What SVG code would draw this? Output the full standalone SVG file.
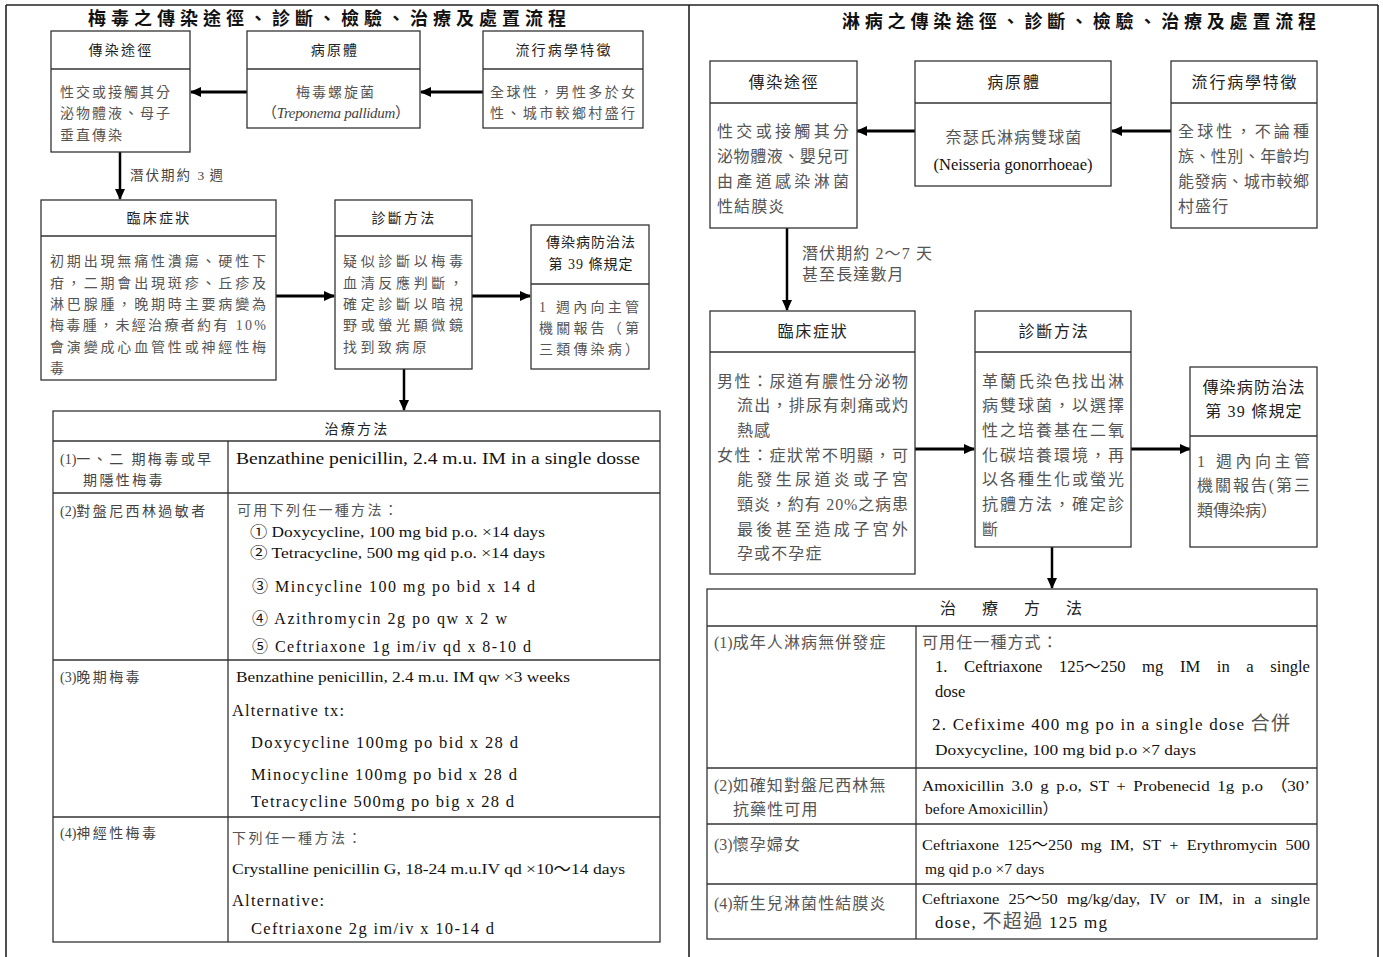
<svg xmlns="http://www.w3.org/2000/svg" width="1383" height="957" viewBox="0 0 1383 957">
<style>
text{font-family:"Liberation Serif","Noto Sans CJK TC",serif;fill:#111}
.box{fill:#fff;stroke:#333;stroke-width:1.3}
.ln{stroke:#333;stroke-width:1.3;fill:none}
.fr{stroke:#222;stroke-width:1.6;fill:none}
.ar{stroke:#000;stroke-width:3;fill:none}
.ttl{font-size:18px;font-weight:bold;fill:#111}
.h{font-size:14px;text-anchor:middle;fill:#222;letter-spacing:2.2px}
.h2{font-size:16px;text-anchor:middle;fill:#222;letter-spacing:1.8px}
.b{font-size:14px;fill:#555;letter-spacing:2px}
.lc{font-size:14px;fill:#444;letter-spacing:2.4px}
.b2{font-size:16px;fill:#555}
.rc{font-size:16px;fill:#555;letter-spacing:1.1px}
.c{text-anchor:middle}
.en{font-size:16px}
.n0{letter-spacing:0}
</style>
<defs>
<marker id="ah" markerWidth="11" markerHeight="10" refX="10" refY="5" orient="auto" markerUnits="userSpaceOnUse">
<path d="M0,0 L11,5 L0,10 z" fill="#000"/>
</marker>
</defs>

<g id="frame">
<line class="fr" x1="6" y1="5" x2="1378" y2="5"/>
<line class="fr" x1="6" y1="5" x2="6" y2="957"/>
<line class="fr" x1="689" y1="5" x2="689" y2="957"/>
<line class="fr" x1="1378" y1="5" x2="1378" y2="957"/>
</g>

<text id="title-left" class="ttl" x="88" y="25" textLength="478" lengthAdjust="spacing">梅毒之傳染途徑、診斷、檢驗、治療及處置流程</text>
<text id="title-right" class="ttl" x="842" y="28" textLength="474" lengthAdjust="spacing">淋病之傳染途徑、診斷、檢驗、治療及處置流程</text>

<g id="connectors">
<line class="ar" x1="247" y1="92" x2="191" y2="92" marker-end="url(#ah)"/>
<line class="ar" x1="483" y1="92" x2="421" y2="92" marker-end="url(#ah)"/>
<line class="ar" x1="120" y1="152" x2="120" y2="199" marker-end="url(#ah)" style="stroke-width:2.5"/>
<line class="ar" x1="276" y1="296" x2="334" y2="296" marker-end="url(#ah)"/>
<line class="ar" x1="472" y1="296" x2="530" y2="296" marker-end="url(#ah)"/>
<line class="ar" x1="404" y1="369" x2="404" y2="410" marker-end="url(#ah)" style="stroke-width:2.5"/>
<line class="ar" x1="915" y1="131" x2="857" y2="131" marker-end="url(#ah)"/>
<line class="ar" x1="1171" y1="131" x2="1112" y2="131" marker-end="url(#ah)"/>
<line class="ar" x1="787" y1="228" x2="787" y2="310" marker-end="url(#ah)" style="stroke-width:2.5"/>
<line class="ar" x1="915" y1="449" x2="974" y2="449" marker-end="url(#ah)"/>
<line class="ar" x1="1131" y1="449" x2="1190" y2="449" marker-end="url(#ah)"/>
<line class="ar" x1="1052" y1="547" x2="1052" y2="588" marker-end="url(#ah)" style="stroke-width:2.5"/>
<text x="130" y="180" style="font-size:13.5px;fill:#444;letter-spacing:2px">潛伏期約 <tspan class="n0">3</tspan> 週</text>
<text x="802" y="259" class="rc">潛伏期約 2～7 天</text>
<text x="802" y="280" class="rc">甚至長達數月</text>
</g>

<!-- LEFT PANEL -->
<g id="L-route">
<rect class="box" x="51" y="31" width="139" height="121"/>
<line class="ln" x1="51" y1="69" x2="190" y2="69"/>
<text class="h" x="121" y="55">傳染途徑</text>
<text class="b" x="60" y="97">性交或接觸其分</text>
<text class="b" x="60" y="118">泌物體液、母子</text>
<text class="b" x="60" y="140">垂直傳染</text>
</g>
<g id="L-pathogen">
<rect class="box" x="247" y="31" width="173" height="97"/>
<line class="ln" x1="247" y1="69" x2="420" y2="69"/>
<text class="h" x="335" y="55">病原體</text>
<text class="b c" x="336" y="97">梅毒螺旋菌</text>
<text x="262" y="118" style="font-size:15px;fill:#444" textLength="148" lengthAdjust="spacing">（<tspan font-style="italic">Treponema pallidum</tspan>）</text>
</g>
<g id="L-epi">
<rect class="box" x="483" y="31" width="160" height="97"/>
<line class="ln" x1="483" y1="69" x2="643" y2="69"/>
<text class="h" x="564" y="55">流行病學特徵</text>
<text class="b" x="490" y="97" textLength="147" lengthAdjust="spacing">全球性，男性多於女</text>
<text class="b" x="490" y="118" textLength="147" lengthAdjust="spacing">性、城市較鄉村盛行</text>
</g>
<g id="L-clinical">
<rect class="box" x="41" y="200" width="235" height="180"/>
<line class="ln" x1="41" y1="236" x2="276" y2="236"/>
<text class="h" x="159" y="223">臨床症狀</text>
<text class="b" x="50" y="266" textLength="218" lengthAdjust="spacing">初期出現無痛性潰瘍、硬性下</text>
<text class="b" x="50" y="288" textLength="218" lengthAdjust="spacing">疳，二期會出現斑疹、丘疹及</text>
<text class="b" x="50" y="309" textLength="218" lengthAdjust="spacing">淋巴腺腫，晚期時主要病變為</text>
<text class="b" x="50" y="330" textLength="218" lengthAdjust="spacing">梅毒腫，未經治療者約有 10%</text>
<text class="b" x="50" y="352" textLength="218" lengthAdjust="spacing">會演變成心血管性或神經性梅</text>
<text class="b" x="50" y="373">毒</text>
</g>
<g id="L-diagnosis">
<rect class="box" x="335" y="200" width="137" height="169"/>
<line class="ln" x1="335" y1="236" x2="472" y2="236"/>
<text class="h" x="404" y="223">診斷方法</text>
<text class="b" x="343" y="266" textLength="122" lengthAdjust="spacing">疑似診斷以梅毒</text>
<text class="b" x="343" y="288" textLength="122" lengthAdjust="spacing">血清反應判斷，</text>
<text class="b" x="343" y="309" textLength="122" lengthAdjust="spacing">確定診斷以暗視</text>
<text class="b" x="343" y="330" textLength="122" lengthAdjust="spacing">野或螢光顯微鏡</text>
<text class="b" x="343" y="352" style="letter-spacing:3.4px">找到致病原</text>
</g>
<g id="L-law">
<rect class="box" x="531" y="225" width="118" height="144"/>
<line class="ln" x1="531" y1="284" x2="649" y2="284"/>
<text class="h" x="591" y="247" style="letter-spacing:1px">傳染病防治法</text>
<text class="h" x="591" y="269" style="letter-spacing:1px">第 39 條規定</text>
<text class="b" x="539" y="312" textLength="102" lengthAdjust="spacing">1  週內向主管</text>
<text class="b" x="539" y="333" textLength="102" lengthAdjust="spacing">機關報告（第</text>
<text class="b" x="539" y="354" textLength="102" lengthAdjust="spacing">三類傳染病）</text>
</g>
<g id="L-treatment">
<rect class="box" x="53" y="411" width="607" height="531"/>
<line class="ln" x1="53" y1="441" x2="660" y2="441"/>
<line class="ln" x1="53" y1="493" x2="660" y2="493"/>
<line class="ln" x1="53" y1="660" x2="660" y2="660"/>
<line class="ln" x1="53" y1="817" x2="660" y2="817"/>
<line class="ln" x1="228" y1="441" x2="228" y2="942"/>
<text class="h" x="357" y="434">治療方法</text>
<text class="lc" x="60" y="464"><tspan class="n0">(1)</tspan>一、二 期梅毒或早</text>
<text class="lc" x="83" y="485">期隱性梅毒</text>
<text class="lc" x="60" y="516"><tspan class="n0">(2)</tspan>對盤尼西林過敏者</text>
<text class="lc" x="60" y="682"><tspan class="n0">(3)</tspan>晚期梅毒</text>
<text class="lc" x="60" y="838"><tspan class="n0">(4)</tspan>神經性梅毒</text>
<text class="en" x="236" y="464" style="font-size:16.5px" textLength="404" lengthAdjust="spacingAndGlyphs">Benzathine penicillin, 2.4 m.u. IM in a single dosse</text>
<text x="237" y="515" style="font-size:14px;fill:#555;letter-spacing:2.3px">可用下列任一種方法：</text>
<text x="250" y="537" style="font-size:14.5px" textLength="295" lengthAdjust="spacingAndGlyphs">① Doxycycline, 100 mg bid p.o.  ×14 days</text>
<text x="250" y="558" style="font-size:14.5px" textLength="295" lengthAdjust="spacingAndGlyphs">② Tetracycline, 500 mg qid p.o.  ×14 days</text>
<text class="en" x="252" y="592" textLength="283" lengthAdjust="spacing">③ Mincycline 100 mg po bid x 14 d</text>
<text class="en" x="252" y="624" textLength="255" lengthAdjust="spacing">④ Azithromycin 2g po qw x 2 w</text>
<text class="en" x="252" y="652" textLength="279" lengthAdjust="spacing">⑤ Ceftriaxone 1g im/iv qd x 8-10 d</text>
<text x="236" y="682" style="font-size:14.5px" textLength="334" lengthAdjust="spacingAndGlyphs">Benzathine penicillin, 2.4 m.u. IM qw  ×3 weeks</text>
<text class="en" x="232" y="716" style="font-size:16.5px" textLength="112" lengthAdjust="spacing">Alternative tx:</text>
<text class="en" x="251" y="748" style="font-size:16.5px" textLength="267" lengthAdjust="spacing">Doxycycline 100mg po bid x 28 d</text>
<text class="en" x="251" y="780" style="font-size:16.5px" textLength="266" lengthAdjust="spacing">Minocycline 100mg po bid x 28 d</text>
<text class="en" x="251" y="807" style="font-size:16.5px" textLength="263" lengthAdjust="spacing">Tetracycline 500mg po big x 28 d</text>
<text x="232" y="843" style="font-size:14px;fill:#555;letter-spacing:2.5px">下列任一種方法：</text>
<text x="232" y="874" style="font-size:15px" textLength="393" lengthAdjust="spacingAndGlyphs">Crystalline penicillin G, 18-24 m.u.IV qd  ×10～14 days</text>
<text class="en" x="232" y="906" style="font-size:16.5px" textLength="92" lengthAdjust="spacing">Alternative:</text>
<text class="en" x="251" y="934" style="font-size:16.5px" textLength="243" lengthAdjust="spacing">Ceftriaxone 2g im/iv x 10-14 d</text>
</g>

<!-- RIGHT PANEL -->
<g id="R-route">
<rect class="box" x="710" y="61" width="147" height="167"/>
<line class="ln" x1="710" y1="103" x2="857" y2="103"/>
<text class="h2" x="784" y="88">傳染途徑</text>
<text class="b2" x="717" y="137" textLength="132" lengthAdjust="spacing">性交或接觸其分</text>
<text class="b2" x="717" y="162" textLength="132" lengthAdjust="spacing">泌物體液、嬰兒可</text>
<text class="b2" x="717" y="187" textLength="132" lengthAdjust="spacing">由產道感染淋菌</text>
<text class="rc" x="717" y="212">性結膜炎</text>
</g>
<g id="R-pathogen">
<rect class="box" x="915" y="61" width="196" height="125"/>
<line class="ln" x1="915" y1="103" x2="1111" y2="103"/>
<text class="h2" x="1014" y="88">病原體</text>
<text class="rc c" x="1014" y="143">奈瑟氏淋病雙球菌</text>
<text class="c" x="1013" y="170" style="font-size:16.5px">(Neisseria gonorrhoeae)</text>
</g>
<g id="R-epi">
<rect class="box" x="1171" y="61" width="146" height="167"/>
<line class="ln" x1="1171" y1="103" x2="1317" y2="103"/>
<text class="h2" x="1245" y="88">流行病學特徵</text>
<text class="b2" x="1178" y="137" textLength="131" lengthAdjust="spacing">全球性，不論種</text>
<text class="b2" x="1178" y="162" textLength="131" lengthAdjust="spacing">族、性別、年齡均</text>
<text class="b2" x="1178" y="187" textLength="131" lengthAdjust="spacing">能發病、城市較鄉</text>
<text class="rc" x="1178" y="212">村盛行</text>
</g>
<g id="R-clinical">
<rect class="box" x="710" y="311" width="205" height="263"/>
<line class="ln" x1="710" y1="352" x2="915" y2="352"/>
<text class="h2" x="813" y="337">臨床症狀</text>
<text class="b2" x="717" y="387" textLength="191" lengthAdjust="spacing">男性：尿道有膿性分泌物</text>
<text class="b2" x="737" y="411" textLength="171" lengthAdjust="spacing">流出，排尿有刺痛或灼</text>
<text class="rc" x="737" y="436">熱感</text>
<text class="b2" x="717" y="461" textLength="191" lengthAdjust="spacing">女性：症狀常不明顯，可</text>
<text class="b2" x="737" y="485" textLength="171" lengthAdjust="spacing">能發生尿道炎或子宮</text>
<text class="b2" x="737" y="510" textLength="171" lengthAdjust="spacing">頸炎，約有 20%之病患</text>
<text class="b2" x="737" y="535" textLength="171" lengthAdjust="spacing">最後甚至造成子宮外</text>
<text class="rc" x="737" y="559">孕或不孕症</text>
</g>
<g id="R-diagnosis">
<rect class="box" x="975" y="311" width="156" height="236"/>
<line class="ln" x1="975" y1="352" x2="1131" y2="352"/>
<text class="h2" x="1054" y="337">診斷方法</text>
<text class="b2" x="982" y="387" textLength="142" lengthAdjust="spacing">革蘭氏染色找出淋</text>
<text class="b2" x="982" y="411" textLength="142" lengthAdjust="spacing">病雙球菌，以選擇</text>
<text class="b2" x="982" y="436" textLength="142" lengthAdjust="spacing">性之培養基在二氧</text>
<text class="b2" x="982" y="461" textLength="142" lengthAdjust="spacing">化碳培養環境，再</text>
<text class="b2" x="982" y="485" textLength="142" lengthAdjust="spacing">以各種生化或螢光</text>
<text class="b2" x="982" y="510" textLength="142" lengthAdjust="spacing">抗體方法，確定診</text>
<text class="b2" x="982" y="535">斷</text>
</g>
<g id="R-law">
<rect class="box" x="1190" y="367" width="127" height="180"/>
<line class="ln" x1="1190" y1="436" x2="1317" y2="436"/>
<text class="h2" x="1254" y="393" style="letter-spacing:1.2px">傳染病防治法</text>
<text class="h2" x="1254" y="417" style="letter-spacing:1.2px">第 39 條規定</text>
<text class="b2" x="1197" y="467" textLength="113" lengthAdjust="spacing">1  週內向主管</text>
<text class="b2" x="1197" y="491" textLength="113" lengthAdjust="spacing">機關報告(第三</text>
<text class="b2" x="1197" y="516">類傳染病）</text>
</g>
<g id="R-treatment">
<rect class="box" x="707" y="589" width="610" height="350"/>
<line class="ln" x1="707" y1="626" x2="1317" y2="626"/>
<line class="ln" x1="707" y1="768" x2="1317" y2="768"/>
<line class="ln" x1="707" y1="824" x2="1317" y2="824"/>
<line class="ln" x1="707" y1="884" x2="1317" y2="884"/>
<line class="ln" x1="916" y1="626" x2="916" y2="939"/>
<text x="940" y="614" style="font-size:16px;letter-spacing:26px;fill:#222">治療方法</text>
<text class="rc" x="714" y="648"><tspan class="n0">(1)</tspan>成年人淋病無併發症</text>
<text class="rc" x="714" y="791"><tspan class="n0">(2)</tspan>如確知對盤尼西林無</text>
<text class="rc" x="733" y="815">抗藥性可用</text>
<text class="rc" x="714" y="850"><tspan class="n0">(3)</tspan>懷孕婦女</text>
<text class="rc" x="714" y="909"><tspan class="n0">(4)</tspan>新生兒淋菌性結膜炎</text>
<text class="rc" x="922" y="648">可用任一種方式：</text>
<text x="935" y="672" style="font-size:16px;word-spacing:12px" textLength="375" lengthAdjust="spacingAndGlyphs">1. Ceftriaxone 125～250 mg IM in a single</text>
<text x="935" y="697" style="font-size:16.5px">dose</text>
<text x="932" y="730" style="font-size:17px" textLength="358" lengthAdjust="spacing">2. Cefixime 400 mg po in a single dose  <tspan style="font-size:19px;fill:#555">合併</tspan></text>
<text x="935" y="755" style="font-size:15.5px" textLength="261" lengthAdjust="spacingAndGlyphs">Doxycycline, 100 mg bid p.o  ×7 days</text>
<text x="922" y="791" style="font-size:15.5px;word-spacing:3px" textLength="388" lengthAdjust="spacingAndGlyphs">Amoxicillin 3.0 g p.o, ST + Probenecid 1g p.o （30’</text>
<text x="925" y="814" style="font-size:15.5px">before Amoxicillin）</text>
<text x="922" y="850" style="font-size:15.5px;word-spacing:4px" textLength="388" lengthAdjust="spacingAndGlyphs">Ceftriaxone 125～250 mg IM, ST + Erythromycin 500</text>
<text x="925" y="874" style="font-size:15.5px">mg qid p.o  ×7 days</text>
<text x="922" y="904" style="font-size:15.5px;word-spacing:5px" textLength="388" lengthAdjust="spacingAndGlyphs">Ceftriaxone 25～50 mg/kg/day, IV or IM, in a single</text>
<text x="935" y="928" style="font-size:17px" textLength="172" lengthAdjust="spacing">dose,  <tspan style="font-size:19px;fill:#555">不超過</tspan> 125 mg</text>
</g>
</svg>
